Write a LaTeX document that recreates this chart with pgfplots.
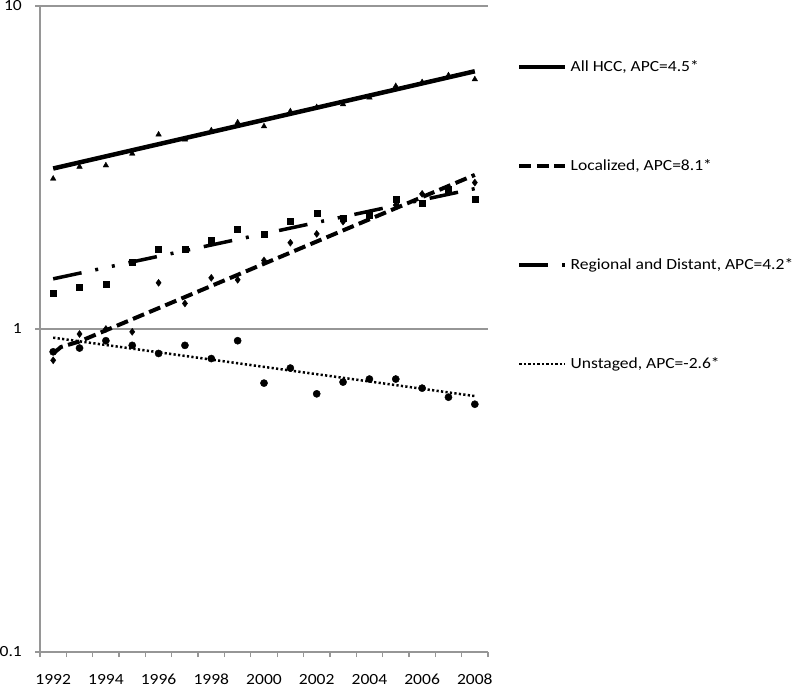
\documentclass[border=0pt]{standalone}
\usepackage{fontspec}
\setmainfont{Carlito}[FakeStretch=1.13]
\usepackage{pgfplots}
\pgfplotsset{compat=1.18}
\definecolor{axgray}{RGB}{150,150,150}
\begin{document}
\begin{tikzpicture}
\begin{semilogyaxis}[
  at={(0pt,0pt)}, anchor=south west,
  scale only axis, width=448pt, height=646pt,
  xmin=1991.5, xmax=2008.5, ymin=0.1, ymax=10,
  axis x line*=bottom, axis y line*=left,
  axis line style={axgray, line width=1.3pt},
  tick style={axgray, line width=1.3pt},
  tick align=outside, major tick length=5pt,
  xtick={1991.5,1992.5,...,2008.5}, xticklabels={},
  extra x ticks={1992,1994,...,2008},
  extra x tick labels={1992,1994,1996,1998,2000,2002,2004,2006,2008},
  extra x tick style={major tick length=0pt, grid=none,
     tick label style={anchor=north, inner sep=0pt, yshift=-22pt}},
  ytick={0.1,1,10}, yticklabels={0.1,1,10}, yminorticks=false,
  ymajorgrids, grid style={axgray, line width=1.3pt},
  yticklabel style={anchor=east, inner sep=0pt, xshift=-13pt},
  tick label style={font=\fontsize{15.5}{18}\selectfont, text=black},
  /pgf/number format/assume math mode=true,
  clip=false,
  legend style={draw=none, fill=none, at={(1.0647,0.9164)}, anchor=north west,
     font=\fontsize{15.5}{18}\selectfont, row sep=85pt, inner sep=0pt,
     nodes={inner sep=0pt, text height=11pt, text depth=3pt},
     /tikz/every odd column/.append style={column sep=3pt}},
  legend cell align=left,
  legend image code/.code={\draw[#1] (0pt,0pt) -- (46pt,0pt);},
]
% markers
\addplot[only marks, mark=triangle*, mark size=3.2pt, black, forget plot] coordinates {
(1992,2.92) (1993,3.18) (1994,3.21) (1995,3.49) (1996,4.0) (1997,3.86) (1998,4.12) (1999,4.36) (2000,4.24) (2001,4.72) (2002,4.86) (2003,4.96) (2004,5.21) (2005,5.65) (2006,5.81) (2007,6.1) (2008,5.93)};
\addplot[only marks, mark=diamond*, mark size=3.5pt, black, forget plot] coordinates {
(1992,0.80) (1993,0.965) (1994,1.0) (1995,0.98) (1996,1.39) (1997,1.20) (1998,1.44) (1999,1.42) (2000,1.63) (2001,1.85) (2002,1.97) (2003,2.15) (2004,2.28) (2005,2.42) (2006,2.62) (2007,2.72) (2008,2.84)};
\addplot[only marks, mark=square*, mark size=3pt, black, forget plot] coordinates {
(1992,1.29) (1993,1.35) (1994,1.38) (1995,1.61) (1996,1.77) (1997,1.77) (1998,1.89) (1999,2.03) (2000,1.96) (2001,2.15) (2002,2.28) (2003,2.2) (2004,2.25) (2005,2.53) (2006,2.46) (2007,2.7) (2008,2.52)};
\addplot[only marks, mark=*, mark size=3.6pt, black, forget plot] coordinates {
(1992,0.85) (1993,0.873) (1994,0.92) (1995,0.89) (1996,0.84) (1997,0.89) (1998,0.81) (1999,0.92) (2000,0.68) (2001,0.757) (2002,0.63) (2003,0.685) (2004,0.70) (2005,0.70) (2006,0.656) (2007,0.615) (2008,0.585)};
% trend lines
\addplot[black, line width=4.5pt] coordinates {(1992,3.14) (2008,6.28)};
\addlegendentry{All HCC, APC=4.5*}
\addplot[black, line width=4pt, dash pattern=on 12pt off 5.5pt] coordinates {(1992,0.84) (1992.3,0.88) (1993,0.915) (2008,3.0)};
\addlegendentry{Localized, APC=8.1*}
\addplot[black, line width=3.5pt, dash pattern=on 29pt off 14pt on 3pt off 14pt on 3pt off 14pt] coordinates {(1992,1.43) (2008,2.72)};
\addlegendentry{Regional and Distant, APC=4.2*}
\addplot[black, line width=2.5pt, dash pattern=on 2.2pt off 2.3pt] coordinates {(1992,0.94) (2008,0.62)};
\addlegendentry{Unstaged, APC=-2.6*}
\end{semilogyaxis}
\pgfresetboundingbox
\path[use as bounding box] (-40pt,-36pt) rectangle (760pt,652pt);
\end{tikzpicture}
\end{document}
